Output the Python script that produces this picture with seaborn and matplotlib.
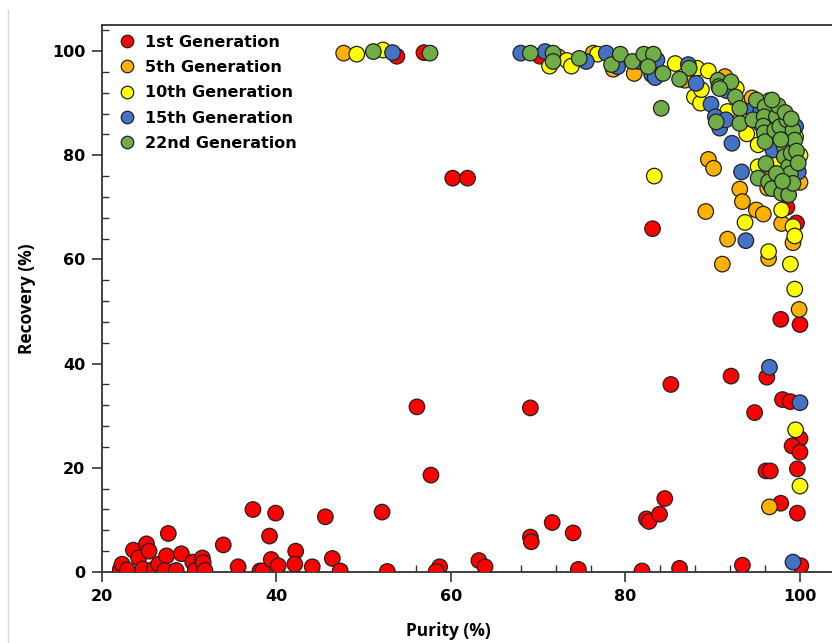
import matplotlib
matplotlib.use("Agg")
import matplotlib.pyplot as plt
from matplotlib.lines import Line2D
from matplotlib.ticker import MultipleLocator
import seaborn as sns
import pandas as pd

# Purity / recovery pairs (%) for each generation
gen1_purity = [22.1, 22.3, 22.9, 23.6, 24.2, 25.1, 25.4, 24.7, 26.0, 26.5, 27.6, 27.4, 27.2, 28.5,
               29.1, 30.4, 30.7, 31.5, 31.6, 31.8, 33.9, 35.6, 37.3, 38.1, 38.4, 39.2, 39.9, 39.4,
               40.2, 42.2, 42.1, 44.1, 45.6, 46.4, 47.3, 52.1, 52.7, 56.1, 57.7, 58.7, 58.3, 63.2,
               63.9, 69.1, 69.1, 69.2, 71.6, 74.0, 74.6, 81.9, 82.4, 82.7, 83.9, 84.5, 85.2, 86.2,
               92.1, 93.4, 94.8, 96.2, 96.1, 96.6, 97.8, 100.0, 98.0, 98.9, 97.8, 100.0, 99.1,
               100.0, 99.7, 99.7, 100.1, 98.5, 99.6, 83.1, 60.2, 61.9, 56.9, 53.8, 70.2]
gen1_recovery = [0.5, 1.5, 0.4, 4.2, 2.7, 5.4, 4.0, 0.6, 0.6, 1.5, 7.4, 3.1, 0.3, 0.3,
                 3.5, 1.9, 0.3, 2.7, 1.8, 0.3, 5.2, 1.0, 12.0, 0.2, 0.2, 6.9, 11.3, 2.4,
                 1.2, 4.0, 1.5, 1.0, 10.6, 2.6, 0.2, 11.5, 0.1, 31.7, 18.6, 1.0, 0.1, 2.2,
                 1.0, 31.5, 6.7, 5.8, 9.5, 7.5, 0.5, 0.2, 10.2, 9.7, 11.1, 14.1, 36.0, 0.7,
                 37.6, 1.3, 30.6, 37.4, 19.4, 19.4, 48.5, 47.5, 33.1, 32.7, 13.2, 25.6, 24.2,
                 23.0, 19.8, 11.3, 1.2, 70.0, 67.0, 65.9, 75.6, 75.6, 99.7, 99.0, 99.0]

gen5_purity = [47.7, 72.3, 76.3, 78.6, 81.0, 86.8, 91.4, 89.5, 90.1, 93.1, 93.4, 89.2, 95.0,
               95.8, 97.9, 99.2, 91.7, 96.4, 91.1, 99.9, 96.5, 100.0, 96.6, 93.5, 95.5, 97.0,
               98.5, 99.5, 94.5, 96.3]
gen5_recovery = [99.6, 98.9, 99.6, 96.5, 95.7, 94.4, 95.1, 79.2, 77.5, 73.5, 71.1, 69.2, 69.5,
                 68.7, 66.9, 63.2, 63.9, 60.2, 59.1, 50.4, 12.5, 74.8, 75.5, 88.5, 86.0, 83.0,
                 79.5, 77.5, 91.0, 73.7]

gen10_purity = [49.2, 52.2, 71.3, 73.3, 73.8, 76.8, 85.7, 88.2, 89.5, 87.9, 88.6, 88.7, 92.7,
                91.7, 93.9, 95.2, 97.5, 95.2, 96.6, 100.0, 97.9, 83.3, 93.7, 99.2, 99.4, 96.4,
                98.9, 99.4, 99.5, 100.0, 96.5, 99.5]
gen10_recovery = [99.4, 100.2, 97.1, 98.2, 97.1, 99.4, 97.6, 96.7, 96.2, 91.2, 90.0, 92.6, 92.8,
                  88.4, 84.1, 82.0, 78.8, 77.8, 74.3, 80.0, 69.5, 76.0, 67.1, 66.3, 64.5, 61.5,
                  59.1, 54.3, 27.3, 16.5, 90.5, 83.5]

gen15_purity = [53.3, 68.0, 70.8, 75.5, 77.8, 79.1, 81.5, 83.6, 83.0, 83.4, 87.2, 88.1, 89.8,
                90.3, 90.8, 91.5, 91.6, 94.6, 92.2, 96.9, 99.8, 93.3, 93.8, 96.5, 100.0, 99.2,
                95.5, 97.5, 98.8, 96.2, 97.0, 99.5]
gen15_recovery = [99.7, 99.6, 99.9, 98.0, 99.6, 97.0, 98.0, 98.3, 95.5, 94.9, 97.4, 93.8, 89.8,
                  87.4, 85.2, 86.8, 92.4, 88.7, 82.3, 81.0, 76.8, 76.8, 63.6, 39.3, 32.5, 1.9,
                  88.5, 86.0, 82.0, 84.5, 88.8, 85.5]

gen22_purity = [51.1, 57.6, 69.1, 71.7, 71.7, 74.7, 78.4, 79.4, 80.8, 82.1, 83.2, 82.6, 84.3,
                87.3, 86.2, 84.1, 90.6, 90.7, 92.1, 92.6, 90.8, 90.4, 93.1, 95.0, 93.1, 94.6,
                96.0, 95.9, 95.8, 95.9, 96.0, 97.3, 97.1, 98.2, 98.2, 96.1, 95.2, 96.4, 96.8,
                97.9, 98.7, 98.7, 98.9, 99.2, 99.0, 98.9, 97.7, 98.5, 99.2, 99.4, 97.5, 98.3,
                99.0, 96.8, 97.8, 99.6, 99.8, 97.3, 98.0]
gen22_recovery = [99.9, 99.6, 99.6, 99.6, 98.0, 98.6, 97.4, 99.4, 98.0, 99.4, 99.4, 97.0, 95.7,
                  96.7, 94.6, 89.0, 94.4, 93.2, 94.1, 91.2, 92.8, 86.4, 89.0, 90.6, 86.1, 86.8,
                  89.3, 87.4, 85.6, 84.3, 82.6, 87.4, 84.8, 81.6, 79.7, 78.4, 75.6, 74.9, 73.6,
                  72.7, 72.4, 77.8, 76.5, 74.6, 80.4, 83.6, 85.5, 86.8, 84.8, 82.9, 89.5, 88.2,
                  87.0, 90.6, 83.0, 80.8, 78.5, 76.5, 75.0]

generations = ["1st Generation", "5th Generation", "10th Generation",
               "15th Generation", "22nd Generation"]
colors = ["#FF0000", "#FFB000", "#FFFF00", "#4472C4", "#70AD47"]

series = [(gen1_purity, gen1_recovery), (gen5_purity, gen5_recovery),
          (gen10_purity, gen10_recovery), (gen15_purity, gen15_recovery),
          (gen22_purity, gen22_recovery)]
frames = [pd.DataFrame({"Purity": p, "Recovery": r, "Generation": g})
          for (p, r), g in zip(series, generations)]
df = pd.concat(frames, ignore_index=True)

sns.set_style("ticks")
plt.rcParams["font.family"] = ["DejaVu Sans"]
plt.rcParams["text.color"] = "black"
plt.rcParams["xtick.color"] = "black"
plt.rcParams["ytick.color"] = "black"

fig = plt.figure(figsize=(8.32, 6.43), dpi=100)
ax = fig.add_axes([102 / 832, 1 - 572 / 643, 1 - 102 / 832, (572 - 25) / 643])

sns.scatterplot(data=df, x="Purity", y="Recovery", hue="Generation",
                hue_order=generations, palette=colors, s=125,
                edgecolor="#222222", linewidth=0.9, ax=ax, legend=False, zorder=3)

ax.set_xlim(20, 103.67)
ax.set_ylim(0, 105)
ax.xaxis.set_major_locator(MultipleLocator(20))
ax.xaxis.set_minor_locator(MultipleLocator(4))
ax.yaxis.set_major_locator(MultipleLocator(20))
ax.yaxis.set_minor_locator(MultipleLocator(4))
ax.tick_params(which="major", direction="out", length=7, width=1.2, color="#333333",
               labelsize=11.5, pad=5, labelcolor="black")
ax.tick_params(which="minor", direction="in", length=5, width=1.0, color="#333333")
for lab in ax.get_xticklabels() + ax.get_yticklabels():
    lab.set_fontweight("bold")

for side in ["left", "bottom", "top"]:
    ax.spines[side].set_color("#333333")
    ax.spines[side].set_linewidth(1.3)
ax.spines["right"].set_visible(False)

ax.set_xlabel("Purity (%)", fontsize=12.5, fontweight="bold", family="Open Sans", color="black")
ax.set_ylabel("Recovery (%)", fontsize=12.5, fontweight="bold", family="Open Sans", color="black")
ax.xaxis.set_label_coords((448 - 102) / 730, -0.092)
ax.yaxis.set_label_coords(-0.09, 0.5)

handles = [Line2D([0], [0], marker="o", linestyle="", markersize=9,
                  markerfacecolor=c, markeredgecolor="#222222", markeredgewidth=0.9)
           for c in colors]
leg = ax.legend(handles, generations, loc="upper left", bbox_to_anchor=(0.008, 1.003),
                frameon=False, handletextpad=0.62, labelspacing=0.65, handlelength=1.0,
                borderaxespad=0.3, prop={"weight": "bold", "size": 11.5})

# light border of the chart area
fig.add_artist(Line2D([8 / 832, 8 / 832], [0, 1 - 10 / 643], color="#d9d9d9", lw=1))

fig.savefig("out.png", dpi=100)
